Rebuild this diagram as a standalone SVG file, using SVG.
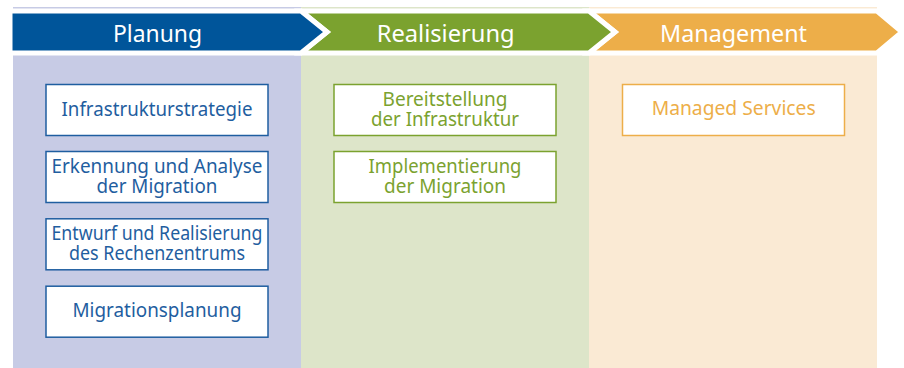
<svg xmlns="http://www.w3.org/2000/svg" width="904" height="368" viewBox="0 0 904 368">
<style>
.hdr{font-family:"Noto Sans","Open Sans",sans-serif;font-size:23px;fill:#ffffff;text-anchor:middle}
.t{font-family:"Noto Sans","Open Sans",sans-serif;font-size:19px;text-anchor:middle}
.box{fill:#ffffff;stroke-width:1.5}
.b .box{stroke:#1F5EA0}.b text{fill:#1F5EA0}
.g .box{stroke:#7BA22F}.g text{fill:#7BA22F}
.o .box{stroke:#EDAE49}.o text{fill:#EDAE49}
.arr{stroke:#ffffff;stroke-width:5;stroke-linejoin:miter}
</style>
<rect width="904" height="368" fill="#ffffff"/>
<g id="columns">
<rect x="13" y="7" width="288" height="361" fill="#C7CBE5"/>
<rect x="301" y="7" width="288" height="361" fill="#DDE5C9"/>
<rect x="589" y="7" width="288" height="361" fill="#FAEAD4"/>
</g>
<g id="phases">
<g id="phase-management">
<polygon class="arr" points="589,11 877,11 902,32 877,53 589,53 615,32" fill="#EDAE49"/>
<text class="hdr" x="733.5" y="42.3" textLength="147" lengthAdjust="spacingAndGlyphs">Management</text>
</g>
<g id="phase-realisierung">
<polygon class="arr" points="301,11 589,11 615,32 589,53 301,53 327,32" fill="#7BA22F"/>
<text class="hdr" x="445.7" y="42.3" textLength="138" lengthAdjust="spacingAndGlyphs">Realisierung</text>
</g>
<g id="phase-planung">
<polygon class="arr" points="10,11 301,11 327,32 301,53 10,53" fill="#00559A"/>
<text class="hdr" x="157.5" y="42.3" textLength="89" lengthAdjust="spacingAndGlyphs">Planung</text>
</g>
</g>
<g id="connectors"></g>
<g id="n1" class="b">
<rect class="box" x="46" y="84.5" width="222" height="51"/>
<text class="t" x="157" y="115.7" textLength="191" lengthAdjust="spacingAndGlyphs">Infrastrukturstrategie</text>
</g>
<g id="n2" class="b">
<rect class="box" x="46" y="151.5" width="222" height="51"/>
<text class="t" x="157" y="173.3" textLength="211" lengthAdjust="spacingAndGlyphs">Erkennung und Analyse</text>
<text class="t" x="157" y="193.3" textLength="121" lengthAdjust="spacingAndGlyphs">der Migration</text>
</g>
<g id="n3" class="b">
<rect class="box" x="46" y="218.8" width="222" height="51"/>
<text class="t" x="157" y="239.5" textLength="211" lengthAdjust="spacingAndGlyphs">Entwurf und Realisierung</text>
<text class="t" x="157" y="260" textLength="176" lengthAdjust="spacingAndGlyphs">des Rechenzentrums</text>
</g>
<g id="n4" class="b">
<rect class="box" x="46" y="286.2" width="222" height="51"/>
<text class="t" x="157" y="317.3" textLength="169" lengthAdjust="spacingAndGlyphs">Migrationsplanung</text>
</g>
<g id="n5" class="g">
<rect class="box" x="334" y="84.5" width="222" height="51"/>
<text class="t" x="445" y="106" textLength="125" lengthAdjust="spacingAndGlyphs">Bereitstellung</text>
<text class="t" x="445" y="126.3" textLength="148" lengthAdjust="spacingAndGlyphs">der Infrastruktur</text>
</g>
<g id="n6" class="g">
<rect class="box" x="334" y="151.5" width="222" height="51"/>
<text class="t" x="445" y="172.8" textLength="153" lengthAdjust="spacingAndGlyphs">Implementierung</text>
<text class="t" x="445" y="193.3" textLength="122" lengthAdjust="spacingAndGlyphs">der Migration</text>
</g>
<g id="n7" class="o">
<rect class="box" x="622.5" y="84.5" width="222" height="51"/>
<text class="t" x="733.7" y="115.2" textLength="164" lengthAdjust="spacingAndGlyphs">Managed Services</text>
</g>
</svg>
